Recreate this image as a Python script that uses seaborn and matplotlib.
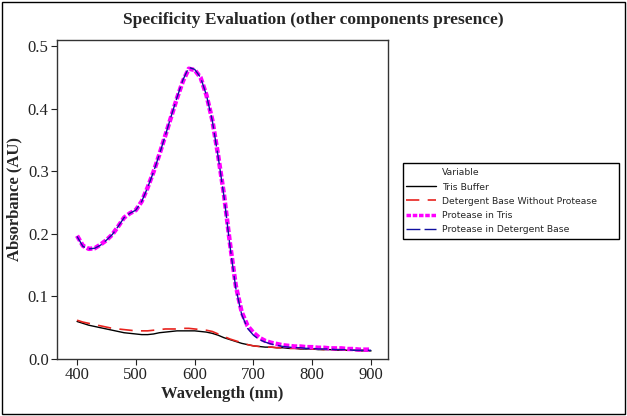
import numpy as np
import pandas as pd
import matplotlib
matplotlib.use("Agg")
import matplotlib.pyplot as plt
import seaborn as sns
from matplotlib.lines import Line2D
from matplotlib.patches import Rectangle

# longueurs d'onde (nm)
wavelength = list(range(400, 910, 10))

tris_buffer = [0.060, 0.057, 0.054, 0.052, 0.050, 0.048, 0.046, 0.044, 0.042, 0.041,
               0.040, 0.039, 0.039, 0.040, 0.042, 0.043, 0.044, 0.045, 0.045, 0.045,
               0.045, 0.044, 0.043, 0.041, 0.038, 0.034, 0.031, 0.028, 0.025, 0.023,
               0.021, 0.020, 0.019, 0.019, 0.018, 0.018, 0.017, 0.017, 0.016, 0.016,
               0.016, 0.015, 0.015, 0.015, 0.014, 0.014, 0.014, 0.014, 0.013, 0.013, 0.013]

detergent_base = [0.062, 0.059, 0.057, 0.055, 0.053, 0.051, 0.049, 0.048, 0.047, 0.046,
                  0.045, 0.045, 0.045, 0.046, 0.047, 0.048, 0.048, 0.048, 0.049, 0.049,
                  0.048, 0.047, 0.046, 0.044, 0.040, 0.036, 0.032, 0.029, 0.026, 0.023,
                  0.021, 0.020, 0.019, 0.019, 0.018, 0.018, 0.017, 0.017, 0.017, 0.016,
                  0.016, 0.016, 0.015, 0.015, 0.015, 0.015, 0.014, 0.014, 0.014, 0.014, 0.014]

protease_tris = [0.197, 0.181, 0.176, 0.177, 0.183, 0.190, 0.199, 0.212, 0.226, 0.233,
                 0.238, 0.252, 0.274, 0.299, 0.327, 0.357, 0.387, 0.417, 0.444, 0.464,
                 0.462, 0.450, 0.422, 0.382, 0.325, 0.262, 0.185, 0.117, 0.075, 0.053,
                 0.042, 0.034, 0.029, 0.026, 0.024, 0.022, 0.021, 0.020, 0.020, 0.019,
                 0.019, 0.018, 0.018, 0.017, 0.017, 0.017, 0.016, 0.016, 0.015, 0.015, 0.015]

protease_detergent = [0.196, 0.180, 0.176, 0.177, 0.182, 0.190, 0.199, 0.212, 0.226, 0.233,
                      0.238, 0.252, 0.274, 0.299, 0.327, 0.357, 0.388, 0.418, 0.446, 0.466,
                      0.463, 0.450, 0.422, 0.381, 0.323, 0.259, 0.181, 0.113, 0.071, 0.049,
                      0.038, 0.031, 0.027, 0.024, 0.022, 0.020, 0.019, 0.018, 0.018, 0.017,
                      0.017, 0.016, 0.016, 0.016, 0.015, 0.015, 0.015, 0.014, 0.014, 0.014, 0.014]

labels = ["Tris Buffer", "Detergent Base Without Protease",
          "Protease in Tris", "Protease in Detergent Base"]

df = pd.DataFrame({
    "Wavelength": wavelength * 4,
    "Absorbance": tris_buffer + detergent_base + protease_tris + protease_detergent,
    "Variable": sum([[lab] * len(wavelength) for lab in labels], []),
})

sns.set_style("white")
plt.rcParams["font.family"] = ["Liberation Serif", "DejaVu Serif"]

fig = plt.figure(figsize=(6.27, 4.16), dpi=100)
ax = fig.add_axes([0.091, 0.137, 0.528, 0.767])

styles = {
    "Tris Buffer": dict(color="black", lw=1.0, ls="-"),
    "Detergent Base Without Protease": dict(color="#e8231e", lw=1.2, ls=(0, (8, 5))),
    "Protease in Tris": dict(color="#ff00ff", lw=3.2, ls=(0, (1.3, 0.5))),
    "Protease in Detergent Base": dict(color="#1010a0", lw=1.0, ls=(0, (10, 3))),
}

for lab in labels:
    sub = df[df["Variable"] == lab]
    st = styles[lab]
    sns.lineplot(data=sub, x="Wavelength", y="Absorbance", ax=ax, color=st["color"],
                 linewidth=st["lw"], linestyle=st["ls"], legend=False)

ax.set_xlim(366, 929)
ax.set_ylim(0, 0.51)
ax.set_xticks([400, 500, 600, 700, 800, 900])
ax.set_yticks([0.0, 0.1, 0.2, 0.3, 0.4, 0.5])
ax.set_yticklabels(["0.0", "0.1", "0.2", "0.3", "0.4", "0.5"])
ax.tick_params(axis="both", which="both", direction="out", length=4, width=0.8,
               labelsize=12, left=True, bottom=True, colors="#222222", pad=2)
for sp in ax.spines.values():
    sp.set_color("#333333")
    sp.set_linewidth(1.0)

ax.set_xlabel("Wavelength (nm)", fontsize=12, fontweight="bold", labelpad=2)
ax.set_ylabel("Absorbance (AU)", fontsize=12, fontweight="bold", labelpad=4)
fig.text(0.5, 0.952, "Specificity Evaluation (other components presence)",
         ha="center", va="center", fontsize=12.5, fontweight="bold")

# legende (cadre dessine a part pour garder la largeur d'origine)
handles = [Line2D([], [], color="none")]
hlabels = ["Variable"]
for lab in labels:
    st = styles[lab]
    handles.append(Line2D([], [], color=st["color"], lw=min(st["lw"], 2.5), ls=st["ls"]))
    hlabels.append(lab)
leg = fig.legend(handles, hlabels, loc="upper left", bbox_to_anchor=(0.643, 0.603),
                 borderaxespad=0, frameon=False, handlelength=3.2,
                 handletextpad=0.6, borderpad=0.35, labelspacing=0.55,
                 prop={"family": "DejaVu Sans", "size": 6.7})

fig.patches.append(Rectangle((403 / 627, 1 - 239 / 416), 216 / 627, 76 / 416,
                             transform=fig.transFigure, fill=False,
                             edgecolor="black", linewidth=1.0))
fig.patches.append(Rectangle((0.003, 0.005), 0.994, 0.99, transform=fig.transFigure,
                             fill=False, edgecolor="black", linewidth=1.0))

fig.savefig("out.png", dpi=100)
